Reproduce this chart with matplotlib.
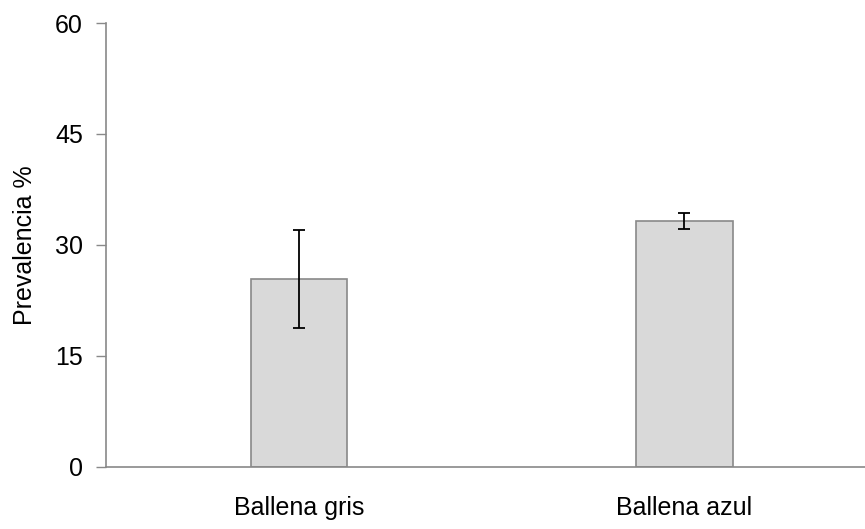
import matplotlib
matplotlib.use('Agg')
import matplotlib.pyplot as plt

categories = ['Ballena gris', 'Ballena azul']
prevalence = [25.4, 33.2]
errors = [6.65, 1.05]
yticks = [0, 15, 30, 45, 60]

plt.rcParams['font.family'] = ['Liberation Sans', 'DejaVu Sans']

fig = plt.figure(figsize=(8.65, 5.29), dpi=100)
ax = fig.add_axes([0.1225, 0.1178, 0.8775, 0.8387])

x = list(range(len(categories)))
ax.bar(x, prevalence, width=0.25, color='#d9d9d9', edgecolor='#898989', linewidth=1.2,
       yerr=errors, error_kw=dict(ecolor='black', elinewidth=1.3, capsize=4.5, capthick=1.3),
       zorder=2)

ax.set_xlim(-0.5, 1.468)
ax.set_ylim(0, 60)
ax.set_yticks(yticks)
ax.set_xticks(x)
ax.set_xticklabels(categories, fontsize=18)
ax.tick_params(axis='x', length=0, pad=21)
ax.tick_params(axis='y', length=7, width=1, color='#898989', labelsize=18, pad=9.5)
ax.set_ylabel('Prevalencia %', fontsize=18, labelpad=13)

for s in ['top', 'right']:
    ax.spines[s].set_visible(False)
for s in ['left', 'bottom']:
    ax.spines[s].set_color('#898989')
    ax.spines[s].set_linewidth(1.2)
    ax.spines[s].set_zorder(3)

fig.savefig('out.png', dpi=100, facecolor='white')
